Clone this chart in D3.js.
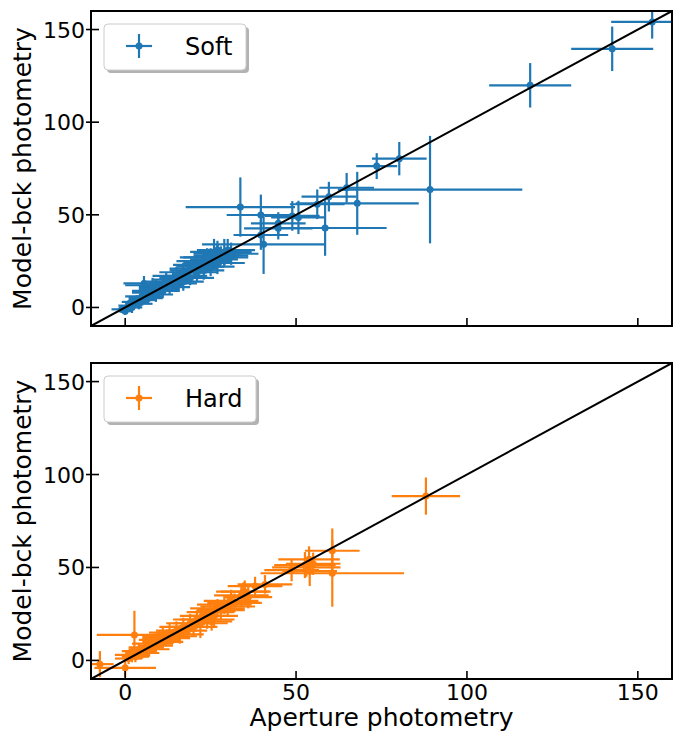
<!DOCTYPE html>
<html><head><meta charset="utf-8">
<script src="https://cdn.jsdelivr.net/npm/d3@7/dist/d3.min.js"></script>
<style>body{margin:0;background:#fff}svg{display:block}text{font-family:"DejaVu Sans",sans-serif}</style>
</head><body>
<script>
const softX = [-1,0,1,2,3,4,5,5,6,7,7,8,9,9,10,11,11,12,13,13,14,15,15,16,17,17,18,19,19,20,21,21,22,23,23,24,25,25,26,27,27,28,29,30,26,24,31,8,5.5,29,27,
  33.7,39.7,39.7,40.5,44.8,44.8,48.9,50.7,56.2,59.6,64.8,58.5,67.9,73.6,80.2,89.2,118.5,142.5,154.2];
const softY = [-1,-2,1,0,3,2,6,4,5,8,6,9,7,11,10,12,9,14,11,13,15,13,17,16,14,19,17,20,16,21,19,23,22,20,25,24,22,27,26,24,29,28,27,31,30,27,29,12,13,30,31,
  54.2,49.9,39.1,34.1,45.4,42.7,49.4,48.6,55.7,59.8,64.6,42.9,56.2,76.3,80.3,63.6,119.9,139.6,154.1];
const softXerr = [3,2,3,3,4,4,5,4,5,5,4,6,5,5,6,6,5,7,6,5,6,6,7,6,6,7,6,6,7,7,6,7,7,6,8,7,7,8,7,8,7,8,7,8,7,8,8,8,6,8,6,
  16,10,8,18,8,10,8,8,8,8,8,18,18,6,8,27,12,12,12];
const softYerr = [2,2,3,3,3,3,4,3,3,4,3,4,4,4,4,5,4,5,4,4,5,4,5,4,5,5,4,5,4,5,5,5,4,5,5,5,5,5,5,6,5,5,5,6,7,5,6,4,4,7,5,
  16,11,8,16,6,6,8,9,8,8,8,15,17,7,9,29,12,12,9];

const hardX = [-7.4,0,2.7,1,2,3,4,5,6,7,8,9,10,11,11,12,13,14,15,16,17,18,19,20,21,22,23,24,25,26,27,28,29,30,31,32,34,35,36,38,40.9,34.6,25.3,
  48.7,52.6,53.8,53,55,54,60.6,60.6,88];
const hardY = [-2,-4,13.7,1,3,2,5,4,7,6,9,8,11,10,13,12,15,13,16,14,18,16,20,18,22,20,24,22,26,24,28,27,30,29,32,31,35,37,34,40,40.9,37,21,
  48.6,51.3,54.4,50,52,48,59,46.9,88.4];
const hardXerr = [4,9,11,4,5,4,5,5,5,6,6,5,6,6,6,7,6,7,6,7,7,6,7,7,7,8,7,8,7,7,8,7,8,8,8,8,8,7,7,8,8,8,6,
  8,9,9,10,8,8,8,21,10];
const hardYerr = [7,5,13,3,4,3,4,3,4,4,4,4,5,4,5,4,5,4,5,5,5,4,5,5,5,8,5,5,5,6,5,5,5,5,6,5,6,6,6,5,5,5,5,
  6,7,7,5,6,8,12,18,10];

const xTicks = [0,50,100,150];
const yTicks = [0,50,100,150];
const limits = [-10,160];
const panels = [
  {name:"Soft", color:"#1f77b4", xs:softX, ys:softY, xe:softXerr, ye:softYerr, top:11, bottom:326, showX:false},
  {name:"Hard", color:"#ff7f0e", xs:hardX, ys:hardY, xe:hardXerr, ye:hardYerr, top:363, bottom:679, showX:true}
];

const W=684,H=733,L=91,R=672;
const svg = d3.select("body").append("svg").attr("width",W).attr("height",H);
const x = d3.scaleLinear().domain(limits).range([L,R]);

panels.forEach((p,i)=>{
  const y = d3.scaleLinear().domain(limits).range([p.bottom,p.top]);
  const g = svg.append("g");
  const cid = "clip"+i;
  svg.append("clipPath").attr("id",cid).append("rect")
    .attr("x",L).attr("y",p.top).attr("width",R-L).attr("height",p.bottom-p.top);
  const pg = g.append("g").attr("clip-path",`url(#${cid})`);
  const data = p.xs.map((v,j)=>({x:v,y:p.ys[j],xe:p.xe[j],ye:p.ye[j]}));
  data.forEach(d=>{
    pg.append("line").attr("x1",x(d.x-d.xe)).attr("x2",x(d.x+d.xe)).attr("y1",y(d.y)).attr("y2",y(d.y))
      .attr("stroke",p.color).attr("stroke-width",2.2);
    pg.append("line").attr("x1",x(d.x)).attr("x2",x(d.x)).attr("y1",y(d.y-d.ye)).attr("y2",y(d.y+d.ye))
      .attr("stroke",p.color).attr("stroke-width",2.2);
  });
  pg.selectAll("circle").data(data).join("circle")
    .attr("cx",d=>x(d.x)).attr("cy",d=>y(d.y)).attr("r",3.5).attr("fill",p.color);
  pg.append("line").attr("x1",x(limits[0])).attr("y1",y(limits[0])).attr("x2",x(limits[1])).attr("y2",y(limits[1]))
    .attr("stroke","#000").attr("stroke-width",2);

  xTicks.forEach(t=>{
    g.append("line").attr("x1",x(t)).attr("x2",x(t)).attr("y1",p.bottom).attr("y2",p.bottom-8).attr("stroke","#000").attr("stroke-width",1.6);
    if(p.showX) g.append("text").attr("x",x(t)).attr("y",p.bottom+21).attr("text-anchor","middle")
      .attr("font-size",22).text(t);
  });
  yTicks.forEach(t=>{
    g.append("line").attr("x1",L-5).attr("x2",L+8).attr("y1",y(t)).attr("y2",y(t)).attr("stroke","#000").attr("stroke-width",1.6);
    g.append("text").attr("x",L-6).attr("y",y(t)+8).attr("text-anchor","end").attr("font-size",22).text(t);
  });
  g.append("rect").attr("x",L).attr("y",p.top).attr("width",R-L).attr("height",p.bottom-p.top)
    .attr("fill","none").attr("stroke","#000").attr("stroke-width",2);

  g.append("text").attr("transform",`translate(31,${(p.top+p.bottom)/2}) rotate(-90)`)
    .attr("text-anchor","middle").attr("font-size",25).text("Model-bck photometry");

  const lw = p.name==="Soft"?142:152;
  const lx=104, ly=p.top+13, lh=46;
  g.append("rect").attr("x",lx+3).attr("y",ly+3).attr("width",lw).attr("height",lh).attr("rx",4)
    .attr("fill","#000").attr("opacity",0.3);
  g.append("rect").attr("x",lx).attr("y",ly).attr("width",lw).attr("height",lh).attr("rx",4)
    .attr("fill","#fff").attr("stroke","#cccccc").attr("stroke-width",1);
  const cy = ly+lh/2-1;
  g.append("line").attr("x1",126).attr("x2",152).attr("y1",cy).attr("y2",cy).attr("stroke",p.color).attr("stroke-width",2.2);
  g.append("line").attr("x1",139).attr("x2",139).attr("y1",cy-12).attr("y2",cy+12).attr("stroke",p.color).attr("stroke-width",2.2);
  g.append("circle").attr("cx",139).attr("cy",cy).attr("r",3.5).attr("fill",p.color);
  g.append("text").attr("x",185).attr("y",cy+9).attr("font-size",24).text(p.name);
});

svg.append("text").attr("x",(L+R)/2).attr("y",726).attr("text-anchor","middle").attr("font-size",25).text("Aperture photometry");
</script>
</body></html>
